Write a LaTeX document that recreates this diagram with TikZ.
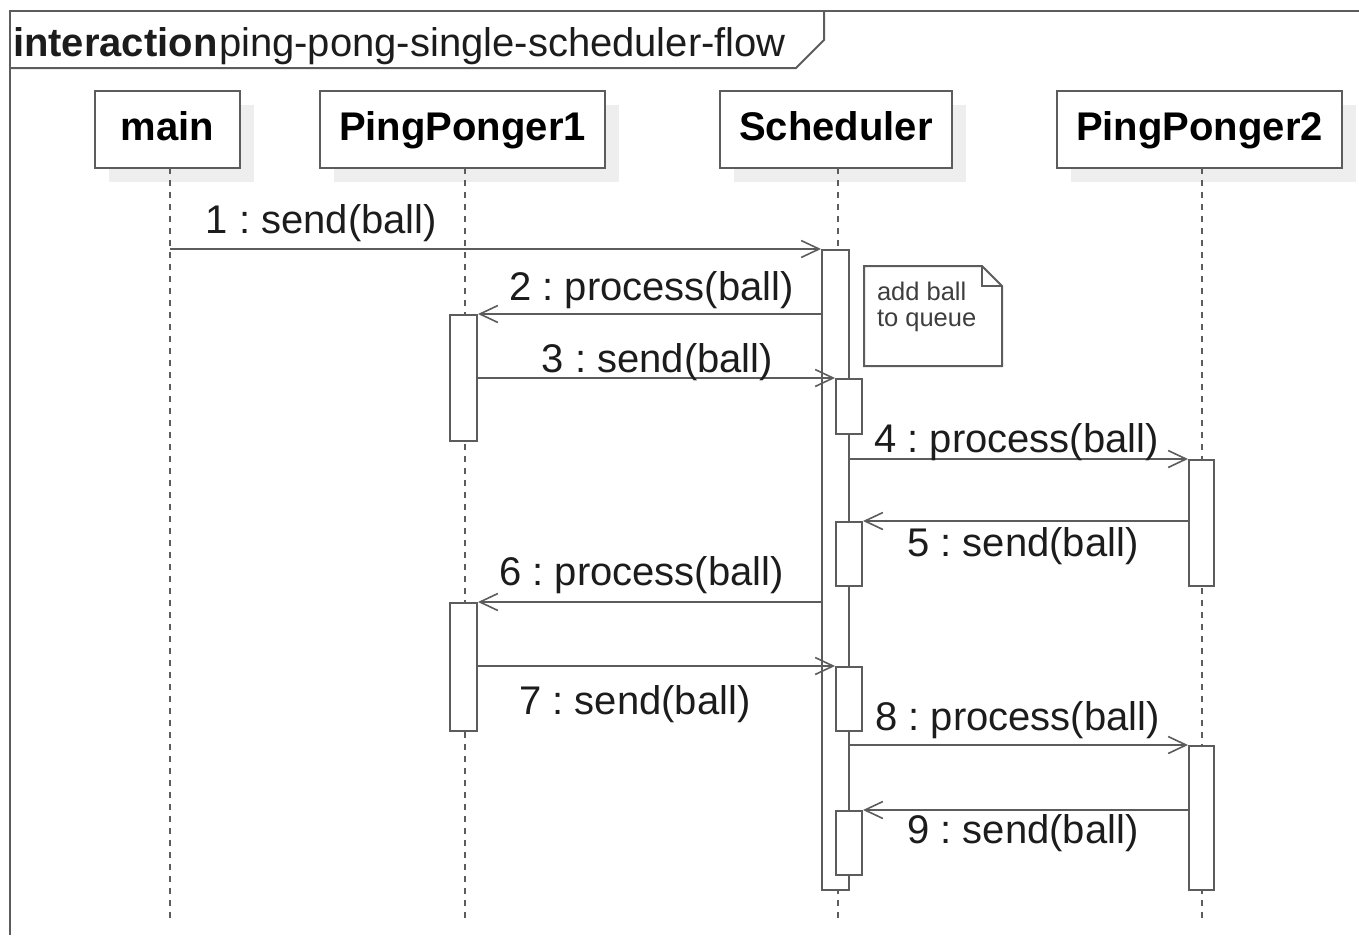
\documentclass[tikz,border=0pt]{standalone}
\usepackage{fontspec}
\setmainfont{Liberation Sans}
\usetikzlibrary{arrows.meta,shadows}
\definecolor{ink}{HTML}{5C5C5C}
\definecolor{txt}{HTML}{1C1C1C}
\definecolor{shade}{HTML}{EEEEEE}
\newcommand{\bigfont}{\fontsize{40}{48}\selectfont}
\newcommand{\notefont}{\fontsize{25.5}{26}\selectfont}
\frenchspacing
\begin{document}
\begin{tikzpicture}[x=1pt,y=-1pt,line width=2pt,
  head/.style={draw=ink,fill=white,font=\bigfont\bfseries,text=black,
    text height=30pt,text depth=9pt,inner sep=0pt,minimum height=77pt,
    drop shadow={shadow xshift=14pt,shadow yshift=-14pt,fill=shade,opacity=1}},
  act/.style={draw=ink,fill=white,inner sep=0pt,minimum width=27pt},
  inact/.style={act,minimum width=26pt},
  life/.style={draw=ink,line width=1.6pt,dash pattern=on 6pt off 6pt},
  msg/.style={draw=ink,-{Straight Barb[length=18pt,width=17pt,line width=1.6pt]}},
  lbl/.style={font=\bigfont,text=txt,anchor=base,inner sep=0pt},
  notetxt/.style={font=\notefont,text=txt!85,anchor=base west,inner sep=0pt},
]
\useasboundingbox (0,0) rectangle (1359,935);

% frame and its title tab
\draw[ink] (10,935) -- (10,11) -- (1359,11);
\draw[ink] (10,68) -- (796,68) -- (824,40) -- (824,11);
\node[anchor=base west,inner sep=0pt,font=\bigfont\bfseries,text=txt] (kw) at (12,56) {interaction};
\node[anchor=base west,inner sep=0pt,font=\bigfont,text=txt] (title) at (218,56) {ping-pong-single-scheduler-flow};

% participants
\node[head,minimum width=145pt] (main) at (167.5,129.5) {main};
\node[head,minimum width=285pt] (pp1) at (462.5,129.5) {PingPonger1};
\node[head,minimum width=232pt] (sch) at (836,129.5) {Scheduler};
\node[head,minimum width=285pt] (pp2) at (1199.5,129.5) {PingPonger2};

% lifelines
\coordinate (mainL) at (170,168);
\coordinate (pp1L) at (465,168);
\coordinate (schL) at (838,168);
\coordinate (pp2L) at (1202,168);
\foreach \l in {mainL,pp1L,schL,pp2L}
  \draw[life] (\l) -- (\l |- 0,920);

% activations
\node[act,minimum height=640pt] (scha) at (835.5,570) {};
\node[act,minimum height=126pt] (pp1a) at (463.5,378) {};
\node[act,minimum height=128pt] (pp1b) at (463.5,667) {};
\node[act,minimum height=126pt,minimum width=25pt] (pp2a) at (1201.5,523) {};
\node[act,minimum height=144pt,minimum width=25pt] (pp2b) at (1201.5,818) {};
\node[inact,minimum height=55pt] (sb1) at (849,406.5) {};
\node[inact,minimum height=64pt] (sb2) at (849,554) {};
\node[inact,minimum height=64pt] (sb3) at (849,699) {};
\node[inact,minimum height=64pt] (sb4) at (849,843) {};

% note
\node[inner sep=0pt,minimum width=136pt,minimum height=98pt] (note) at (933,316) {};
\draw[ink,fill=white] (note.north west) -- ([xshift=-20pt]note.north east)
  -- ([yshift=-20pt]note.north east) -- (note.south east) -- (note.south west) -- cycle;
\draw[ink] ([xshift=-20pt]note.north east) -- ++(0,20) -- ([yshift=-20pt]note.north east);
\node[notetxt] (n1) at (876,300) {add ball};
\node[notetxt] (n2) at (876,326) {to queue};

% messages
\draw[msg] (mainL |- scha.north) -- (scha.north west);
\draw[msg] (scha.west |- pp1a.north) -- (pp1a.north east);
\draw[msg] (pp1a.east |- sb1.north) -- (sb1.north west);
\draw[msg] (scha.east |- pp2a.north) -- (pp2a.north west);
\draw[msg] (pp2a.west |- sb2.north) -- (sb2.north east);
\draw[msg] (scha.west |- pp1b.north) -- (pp1b.north east);
\draw[msg] (pp1b.east |- sb3.north) -- (sb3.north west);
\draw[msg] (scha.east |- pp2b.north) -- (pp2b.north west);
\draw[msg] (pp2b.west |- sb4.north) -- (sb4.north east);

% message labels
\node[lbl] (l1) at (321.5,233) {1 : send(ball)};
\node[lbl] (l2) at (651.5,300) {2 : process(ball)};
\node[lbl] (l3) at (657.5,372) {3 : send(ball)};
\node[lbl] (l4) at (1016.5,452) {4 : process(ball)};
\node[lbl] (l5) at (1023,556) {5 : send(ball)};
\node[lbl] (l6) at (641.5,585) {6 : process(ball)};
\node[lbl] (l7) at (635,714) {7 : send(ball)};
\node[lbl] (l8) at (1017.5,730) {8 : process(ball)};
\node[lbl] (l9) at (1023,843) {9 : send(ball)};
\end{tikzpicture}
\end{document}
